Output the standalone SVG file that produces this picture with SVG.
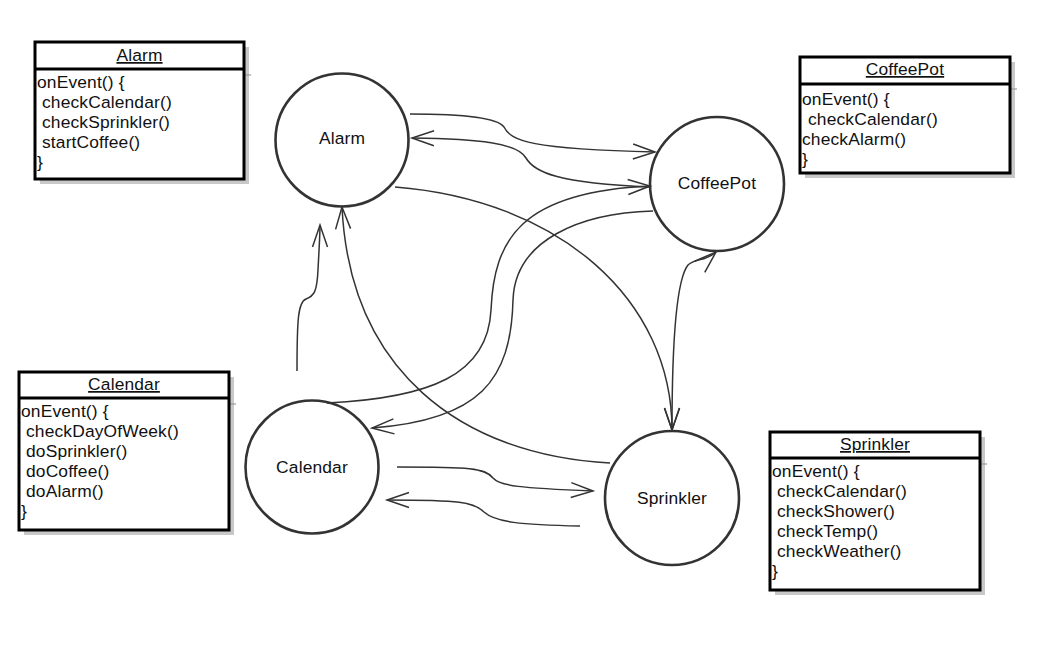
<svg xmlns="http://www.w3.org/2000/svg" width="1042" height="645" viewBox="0 0 1042 645">
<style>
text{font-family:"Liberation Sans",Arial,sans-serif;font-size:17.4px;letter-spacing:0.15px;fill:#111}
.title{text-anchor:middle;text-decoration:underline}
.lbl{text-anchor:middle}
.box{fill:#fff;stroke:#000;stroke-width:3}
.sep{stroke:#000;stroke-width:3}
.shadow{fill:#c8c8c8}
.shline{stroke:#999;stroke-width:1.2}
.node{fill:#fff;stroke:#333;stroke-width:2.6}
.conn path{fill:none;stroke:#333;stroke-width:1.5}
</style>
<defs>
<marker id="arr" markerUnits="userSpaceOnUse" markerWidth="26" markerHeight="20" viewBox="-24 -10 26 20" refX="0" refY="0" orient="auto-start-reverse" overflow="visible">
<path d="M-22,-7.5 L0,0 L-22,7.5" fill="none" stroke="#333" stroke-width="1.5"/>
</marker>
</defs>
<rect width="1042" height="645" fill="#fff"/>

<g id="alarm-box">
<rect class="shadow" x="40" y="47" width="209" height="137"/>
<line class="shline" x1="244" y1="75" x2="251" y2="75"/>
<rect class="box" x="35" y="42" width="209" height="137"/>
<line class="sep" x1="35" y1="69" x2="244" y2="69"/>
<text class="title" x="139.5" y="61">Alarm</text>
<text x="37" y="88">onEvent() {</text>
<text x="42" y="108">checkCalendar()</text>
<text x="42" y="128">checkSprinkler()</text>
<text x="42" y="148">startCoffee()</text>
<text x="37" y="168">}</text>
</g>

<g id="coffeepot-box">
<rect class="shadow" x="805" y="62" width="210" height="116"/>
<line class="shline" x1="1010" y1="89" x2="1017" y2="89"/>
<rect class="box" x="800" y="57" width="210" height="116"/>
<line class="sep" x1="800" y1="84" x2="1010" y2="84"/>
<text class="title" x="905" y="75">CoffeePot</text>
<text x="802" y="105">onEvent() {</text>
<text x="808" y="125">checkCalendar()</text>
<text x="802" y="145">checkAlarm()</text>
<text x="802" y="165">}</text>
</g>

<g id="calendar-box">
<rect class="shadow" x="24" y="377" width="210" height="158"/>
<line class="shline" x1="229" y1="404" x2="236" y2="404"/>
<rect class="box" x="19" y="372" width="210" height="158"/>
<line class="sep" x1="19" y1="398" x2="229" y2="398"/>
<text class="title" x="124" y="390">Calendar</text>
<text x="21" y="417">onEvent() {</text>
<text x="26" y="437">checkDayOfWeek()</text>
<text x="26" y="457">doSprinkler()</text>
<text x="26" y="477">doCoffee()</text>
<text x="26" y="497">doAlarm()</text>
<text x="21" y="517">}</text>
</g>

<g id="sprinkler-box">
<rect class="shadow" x="775" y="437" width="210" height="158"/>
<line class="shline" x1="980" y1="464" x2="987" y2="464"/>
<rect class="box" x="770" y="432" width="210" height="158"/>
<line class="sep" x1="770" y1="458" x2="980" y2="458"/>
<text class="title" x="875" y="450">Sprinkler</text>
<text x="772" y="477">onEvent() {</text>
<text x="777" y="497">checkCalendar()</text>
<text x="777" y="517">checkShower()</text>
<text x="777" y="537">checkTemp()</text>
<text x="777" y="557">checkWeather()</text>
<text x="772" y="577">}</text>
</g>

<g id="alarm">
<circle class="node" cx="342" cy="140" r="66.5"/>
<text class="lbl" x="342" y="144">Alarm</text>
</g>
<g id="coffeepot">
<circle class="node" cx="717" cy="184" r="67"/>
<text class="lbl" x="717" y="189">CoffeePot</text>
</g>
<g id="calendar">
<circle class="node" cx="312" cy="467" r="66.5"/>
<text class="lbl" x="312" y="473">Calendar</text>
</g>
<g id="sprinkler">
<circle class="node" cx="672" cy="498" r="67"/>
<text class="lbl" x="672" y="504">Sprinkler</text>
</g>

<g id="connectors" class="conn">
<path d="M410,114 C460,114 497,117 504,127 C511,141 530,149 655,152" marker-end="url(#arr)"/>
<path d="M412,138 C480,139 517,143 526,158 C534,172 557,183 650,187" marker-start="url(#arr)"/>
<path d="M395,187 C560,200 672,300 672,430" marker-end="url(#arr)"/>
<path d="M327,403 C430,398 488,375 491,310 C494,240 520,192 650,186" marker-end="url(#arr)"/>
<path d="M653,211 C580,213 515,240 513,300 C511,380 480,420 372,428" marker-end="url(#arr)"/>
<path d="M610,463 C460,455 350,370 342,207" marker-end="url(#arr)"/>
<path d="M297,371 C297,320 298,302 306,299 C314,296 317,292 318,270 C319,250 320,235 320,225" marker-end="url(#arr)"/>
<path d="M672,430 C672,340 676,280 688,265 C695,258 705,262 716,252" marker-start="url(#arr)" marker-end="url(#arr)"/>
<path d="M397,467 C470,467 485,468 493,478 C500,486 520,488 593,491" marker-end="url(#arr)"/>
<path d="M580,526 C520,525 495,522 484,512 C474,502 460,500 387,500" marker-end="url(#arr)"/>
</g>
</svg>
